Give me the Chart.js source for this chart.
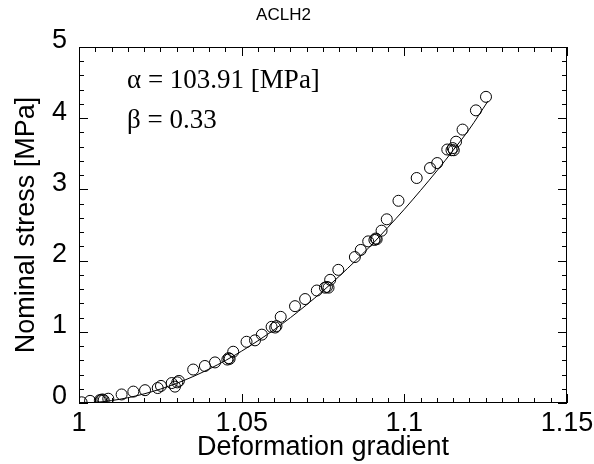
<!DOCTYPE html>
<html lang="en">
<head>
<meta charset="UTF-8">
<title>ACLH2</title>
<script src="https://cdn.jsdelivr.net/npm/chart.js"></script>
<style>
  body { margin: 0; background: #fff; }
</style>
</head>
<body>
<canvas id="myChart" width="594" height="464"></canvas>
<script>
    // measured points
    var lambdaX = [1.0008, 1.0034, 1.0064, 1.0068, 1.0072, 1.0076, 1.0090, 1.0131, 1.0167, 1.0203,
        1.0242, 1.0252, 1.0285, 1.0295, 1.0302, 1.0307, 1.0351, 1.0387, 1.0418, 1.0456,
        1.0460, 1.0463, 1.0474, 1.0515, 1.0541, 1.0562, 1.0592, 1.0603, 1.0607, 1.0620,
        1.0664, 1.0695, 1.0731, 1.0756, 1.0762, 1.0767, 1.0772, 1.0797, 1.0848, 1.0866,
        1.0889, 1.0908, 1.0912, 1.0915, 1.0930, 1.0946, 1.0982, 1.1038, 1.1079, 1.1101,
        1.1132, 1.1145, 1.1149, 1.1152, 1.1159, 1.1179, 1.1220, 1.1251]
    var stressY = [0.01, 0.03, 0.04, 0.04, 0.05, 0.04, 0.06, 0.12, 0.16, 0.18,
        0.21, 0.24, 0.28, 0.23, 0.29, 0.31, 0.47, 0.52, 0.57, 0.61,
        0.63, 0.62, 0.72, 0.86, 0.88, 0.96, 1.07, 1.06, 1.08, 1.21,
        1.36, 1.46, 1.58, 1.62, 1.63, 1.62, 1.73, 1.87, 2.05, 2.15,
        2.27, 2.29, 2.31, 2.30, 2.42, 2.58, 2.84, 3.16, 3.30, 3.37,
        3.56, 3.55, 3.58, 3.55, 3.67, 3.84, 4.11, 4.30]

    // fitted curve
    var fitX = [1.000, 1.005, 1.010, 1.015, 1.020, 1.025, 1.030, 1.035, 1.040, 1.045,
        1.050, 1.055, 1.060, 1.065, 1.070, 1.075, 1.080, 1.085, 1.090, 1.095,
        1.100, 1.105, 1.110, 1.115, 1.120, 1.1257]
    var fitY = [0, 0.009, 0.034, 0.074, 0.128, 0.195, 0.276, 0.370, 0.477, 0.596,
        0.729, 0.874, 1.030, 1.199, 1.381, 1.574, 1.781, 1.997, 2.224, 2.469,
        2.721, 2.986, 3.260, 3.549, 3.847, 4.24]

    var xTicks = [1, 1.05, 1.1, 1.15]
    var yTicks = [0, 1, 2, 3, 4, 5]
    var paramLines = ['\u03b1 = 103.91 [MPa]', '\u03b2 = 0.33']

    Chart.defaults.font.family = '"Liberation Sans", Arial, sans-serif'
    Chart.defaults.color = '#000'

    // frame with inward ticks on all four sides, plus the parameter text
    const frameTicks = {
        id: 'frameTicks',
        afterDraw(chart) {
            const ctx = chart.ctx
            const a = chart.chartArea
            const x = chart.scales.x
            const y = chart.scales.y
            ctx.save()
            ctx.strokeStyle = '#000'
            ctx.lineWidth = 1
            ctx.strokeRect(a.left + 0.5, a.top + 0.5, a.width - 1, a.height - 1)
            ctx.beginPath()
            for (let i = 0; i <= 30; i++) {
                const px = Math.round(x.getPixelForValue(1 + i * 0.005)) + 0.5
                const len = i % 10 == 0 ? 9 : 5
                ctx.moveTo(px, a.bottom); ctx.lineTo(px, a.bottom - len)
                ctx.moveTo(px, a.top); ctx.lineTo(px, a.top + len)
            }
            for (let i = 0; i <= 25; i++) {
                const py = Math.round(y.getPixelForValue(i * 0.2)) + 0.5
                const len = i % 5 == 0 ? 9 : 5
                ctx.moveTo(a.left, py); ctx.lineTo(a.left + len, py)
                ctx.moveTo(a.right, py); ctx.lineTo(a.right - len, py)
            }
            ctx.stroke()

            ctx.fillStyle = '#000'
            ctx.font = '27px "Liberation Serif", "Times New Roman", serif'
            ctx.textBaseline = 'middle'
            ctx.fillText(paramLines[0], a.left + 48, a.top + 34)
            ctx.fillText(paramLines[1], a.left + 48, a.top + 74)
            ctx.restore()
        }
    }

    let points = []
    for (var i = 0; i < lambdaX.length; i++) {
        points.push({ x: lambdaX[i], y: stressY[i] })
    }
    let curve = []
    for (var i = 0; i < fitX.length; i++) {
        curve.push({ x: fitX[i], y: fitY[i] })
    }

    const config = {
        type: 'scatter',
        data: {
            datasets: [{
                label: 'fit',
                type: 'line',
                data: curve,
                borderColor: '#000',
                borderWidth: 1,
                pointRadius: 0,
                cubicInterpolationMode: 'monotone',
                fill: false
            }, {
                label: 'ACLH2',
                data: points,
                pointStyle: 'circle',
                pointRadius: 5.5,
                borderColor: '#000',
                borderWidth: 1,
                backgroundColor: 'rgba(0,0,0,0)'
            }]
        },
        options: {
            responsive: false,
            animation: false,
            layout: { padding: { left: 0, right: 27, top: 0, bottom: 0 } },
            plugins: {
                legend: { display: false },
                tooltip: { enabled: false },
                title: {
                    display: true,
                    text: 'ACLH2',
                    font: { size: 17, weight: 'normal' },
                    padding: { top: 5, bottom: 21.6 }
                }
            },
            scales: {
                x: {
                    type: 'linear',
                    min: 1,
                    max: 1.15,
                    grid: { display: false, drawTicks: false },
                    border: { display: false },
                    afterBuildTicks: function (scale) {
                        scale.ticks = xTicks.map(v => ({ value: v }))
                    },
                    afterFit: function (scale) {
                        scale.height = 61
                        scale.paddingLeft = 0
                        scale.paddingRight = 0
                    },
                    ticks: {
                        font: { size: 27 },
                        padding: 4,
                        maxRotation: 0,
                        callback: v => String(v)
                    },
                    title: {
                        display: true,
                        text: 'Deformation gradient',
                        font: { size: 27 },
                        padding: { top: 0, bottom: 0 }
                    }
                },
                y: {
                    type: 'linear',
                    min: 0,
                    max: 5,
                    grid: { display: false, drawTicks: false },
                    border: { display: false },
                    afterBuildTicks: function (scale) {
                        scale.ticks = yTicks.map(v => ({ value: v }))
                    },
                    afterFit: function (scale) {
                        scale.width = 79
                        scale.paddingTop = 0
                        scale.paddingBottom = 0
                    },
                    ticks: {
                        font: { size: 27 },
                        padding: 12,
                        labelOffset: -6,
                        callback: v => String(v)
                    },
                    title: {
                        display: true,
                        text: 'Nominal stress [MPa]',
                        font: { size: 27 },
                        padding: { top: 10, bottom: 0 }
                    }
                }
            }
        },
        plugins: [frameTicks]
    }

    let myChart = new Chart(document.getElementById('myChart'), config)
</script>
</body>
</html>
